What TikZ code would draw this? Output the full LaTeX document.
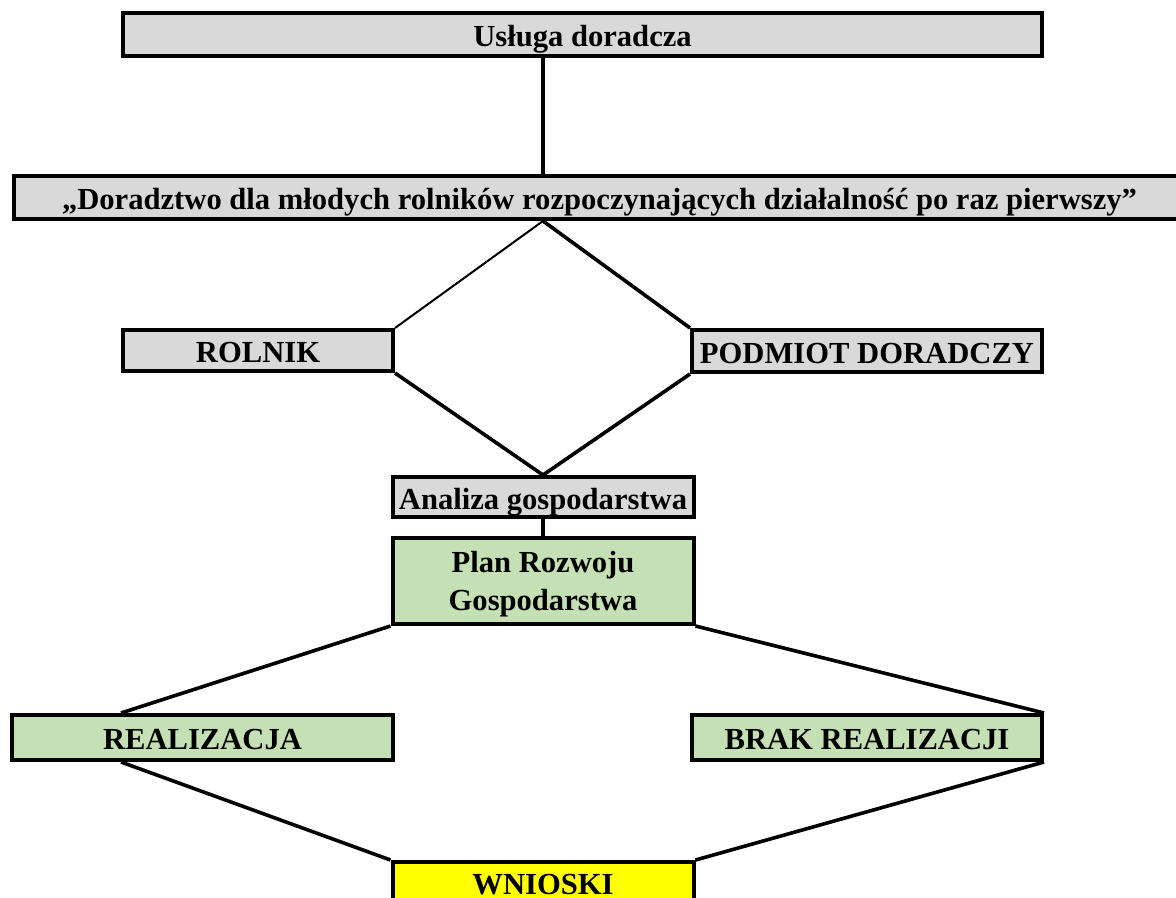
\documentclass[tikz,border=0pt]{standalone}
\usepackage{fontspec}
\setmainfont{Liberation Serif}
\usepackage{tikz}
\usetikzlibrary{calc}
\definecolor{szary}{HTML}{D9D9D9}
\definecolor{zielony}{HTML}{C5E0B4}
\definecolor{zolty}{HTML}{FFFF00}
\tikzstyle{edge}=[
	-,
	draw=black,
	line width=1.8pt
]
\tikzstyle{kafel}=[
    draw=black,
    line width=2pt,
    inner sep=0pt,
    align=center,
    text height=12.2pt,
    text depth=0pt,
    font=\bfseries\fontsize{15.3}{19}\selectfont
]

\begin{document}
\begin{tikzpicture}[x=0.5pt,y=-0.5pt]
\useasboundingbox (0,0) rectangle (1176,898);
\clip (0,0) rectangle (1176,898);
                \node[kafel, fill=szary, minimum width=459.5pt, minimum height=21.5pt] (usluga) at (582.5,34.5) {Usługa doradcza};
\node[kafel, fill=szary, minimum width=585.5pt, minimum height=21.5pt] (doradztwo) at (599.5,197.5) {„Doradztwo dla młodych rolników rozpoczynających działalność po raz pierwszy”};
\node[kafel, fill=szary, minimum width=135pt, minimum height=20.5pt] (rolnik) at (258,350.5) {ROLNIK};
\node[kafel, fill=szary, minimum width=175pt, minimum height=21pt] (podmiot) at (867,351) {PODMIOT DORADCZY};
\node[kafel, fill=szary, minimum width=150.5pt, minimum height=20pt] (analiza) at (543,497) {Analiza gospodarstwa};
\node[kafel, fill=zielony, minimum width=150.5pt, minimum height=43pt, text height=29pt] (plan) at (543,581) {Plan Rozwoju\\Gospodarstwa};
\node[kafel, fill=zielony, minimum width=190.5pt, minimum height=22.5pt] (realizacja) at (202.5,737.5) {REALIZACJA};
\node[kafel, fill=zielony, minimum width=175pt, minimum height=22.5pt] (brak) at (867,737.5) {BRAK REALIZACJI};
\node[kafel, fill=zolty, minimum width=150.5pt, minimum height=20pt] (wnioski) at (543,882) {WNIOSKI};

\draw[edge, line width=2.2pt] (usluga.south -| analiza.north) to (doradztwo.north -| analiza.north);
\draw[edge, line width=1pt] (doradztwo.south -| analiza.north) to (rolnik.north east);
\draw[edge] (doradztwo.south -| analiza.north) to (podmiot.north west);
\draw[edge] (rolnik.south east) to (analiza.north);
\draw[edge] (podmiot.south west) to (analiza.north);
\draw[edge] (analiza.south) to (plan.north);
\draw[edge] (plan.south west) to ([xshift=55.5pt]realizacja.north west);
\draw[edge] (plan.south east) to (brak.north east);
\draw[edge] ([xshift=55.5pt]realizacja.south west) to (wnioski.north west);
\draw[edge] (brak.south east) to (wnioski.north east);


            \end{tikzpicture}
\end{document}
